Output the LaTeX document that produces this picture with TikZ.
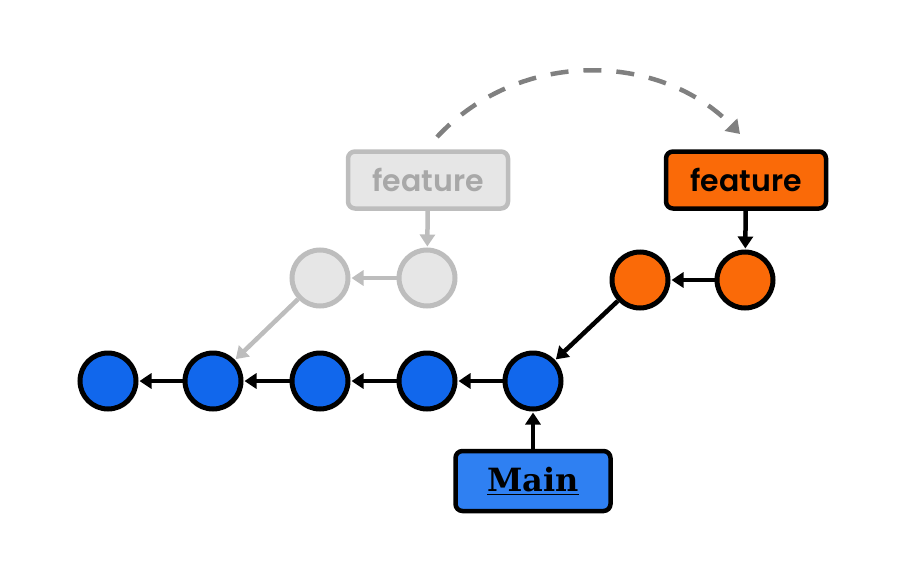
\documentclass[tikz,border=0pt]{standalone}
\usepackage{fontspec}
\setmainfont{Poppins}
\newfontfamily\featfont{Poppins SemiBold}
\newfontfamily\slabfont{DejaVu Serif}
\usetikzlibrary{arrows.meta}
\definecolor{cblue}{HTML}{1167EC}
\definecolor{mblue}{HTML}{2F80F2}
\definecolor{corange}{HTML}{FA6A08}
\definecolor{lgfill}{HTML}{E6E6E6}
\definecolor{lgline}{HTML}{BDBDBD}
\definecolor{lgtext}{HTML}{A8A8A8}
\definecolor{dashc}{HTML}{808080}
\tikzset{
  commit/.style={circle, minimum size=56pt, inner sep=0pt, line width=5pt},
  bluec/.style={commit, draw=black, fill=cblue},
  orangec/.style={commit, draw=black, fill=corange},
  grayc/.style={commit, draw=lgline, fill=lgfill},
  branchbox/.style={rectangle, rounded corners=7pt, line width=4.5pt, minimum width=160pt, minimum height=57pt, font=\featfont\fontsize{30}{32}\selectfont},
  link/.style={line width=4.5pt, -{Triangle[length=12pt,width=15pt]}, shorten >=1pt},
}
\begin{document}
\begin{tikzpicture}[x=1pt,y=-1pt]
\useasboundingbox (0,0) rectangle (922,573);
% gray ghost branch
\node[branchbox, draw=lgline, fill=lgfill, text=lgtext] (gf) at (428,180) {feature};
\node[grayc] (g1) at (320,278) {};
\node[grayc] (g2) at (427,278) {};
% blue main line
\node[bluec] (b1) at (108,381) {};
\node[bluec] (b2) at (213,381) {};
\node[bluec] (b3) at (320,381) {};
\node[bluec] (b4) at (427,381) {};
\node[bluec] (b5) at (533,381) {};
% orange branch
\node[orangec] (o1) at (640,280) {};
\node[orangec] (o2) at (745,280) {};
\node[branchbox, draw=black, fill=corange, text=black] (of) at (746,180) {feature};
\node[branchbox, draw=black, fill=mblue, text=black, minimum width=155pt, minimum height=60pt, font=\slabfont\fontsize{32}{34}\selectfont\bfseries] (mb) at (533,481) {\underline{Main}};
% connectors
\draw[link, draw=lgline] (gf) -- (g2);
\draw[link, draw=lgline] (g2) -- (g1);
\draw[link, draw=lgline] (g1) -- (b2);
\draw[link] (b2) -- (b1);
\draw[link] (b3) -- (b2);
\draw[link] (b4) -- (b3);
\draw[link] (b5) -- (b4);
\draw[link] (o1) -- (b5);
\draw[link] (o2) -- (o1);
\draw[link] (of) -- (o2);
\draw[link] (mb) -- (b5);
% dashed move arc
\coordinate (as) at (437,137);
\coordinate (ae) at (740,134);
\draw[draw=dashc, line width=4.5pt, dash pattern=on 18pt off 15pt, -{Triangle[length=13pt,width=17pt]}]
  (as) .. controls (520,48) and (660,52) .. (ae);
\end{tikzpicture}
\end{document}
